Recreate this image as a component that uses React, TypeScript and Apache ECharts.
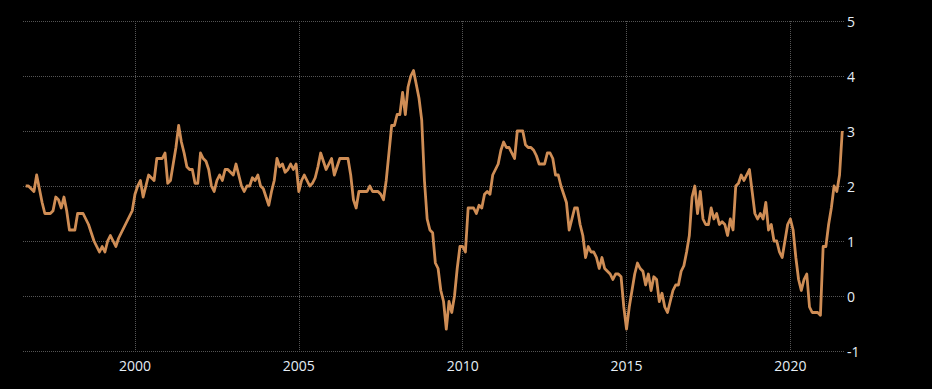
import React, { useEffect, useRef } from "react";
import * as echarts from "echarts";

// Monthly annual inflation rate (%), Aug 1996 .. Sep 2021 (first and last are empty padding months)
const firstMonth = { year: 1996, month: 8 };
const inflation: (number | null)[] = [
  // 1996 Aug..Dec
  null, 2.0, 2.0, 1.95, 1.9,
  // 1997
  2.2, 1.95, 1.7, 1.5, 1.5, 1.5, 1.55, 1.8, 1.75, 1.6, 1.8, 1.55,
  // 1998
  1.2, 1.2, 1.2, 1.5, 1.5, 1.5, 1.4, 1.3, 1.15, 1.0, 0.9, 0.8,
  // 1999
  0.9, 0.8, 1.0, 1.1, 1.0, 0.9, 1.05, 1.15, 1.25, 1.35, 1.45, 1.55,
  // 2000
  1.85, 2.0, 2.1, 1.8, 2.0, 2.2, 2.15, 2.1, 2.5, 2.5, 2.5, 2.6,
  // 2001
  2.05, 2.1, 2.4, 2.7, 3.1, 2.8, 2.6, 2.35, 2.3, 2.3, 2.05, 2.05,
  // 2002
  2.6, 2.5, 2.45, 2.3, 2.0, 1.9, 2.1, 2.2, 2.1, 2.3, 2.3, 2.25,
  // 2003
  2.2, 2.4, 2.2, 2.0, 1.9, 2.0, 2.0, 2.15, 2.1, 2.2, 2.0, 1.95,
  // 2004
  1.8, 1.65, 1.9, 2.1, 2.5, 2.35, 2.4, 2.25, 2.3, 2.4, 2.3, 2.4,
  // 2005
  1.9, 2.1, 2.2, 2.1, 2.0, 2.05, 2.15, 2.35, 2.6, 2.45, 2.3, 2.4,
  // 2006
  2.5, 2.2, 2.35, 2.5, 2.5, 2.5, 2.5, 2.2, 1.75, 1.6, 1.9, 1.9,
  // 2007
  1.9, 1.9, 2.0, 1.9, 1.9, 1.9, 1.85, 1.75, 2.1, 2.6, 3.1, 3.1,
  // 2008
  3.3, 3.3, 3.7, 3.3, 3.8, 4.0, 4.1, 3.85, 3.6, 3.2, 2.1, 1.4,
  // 2009
  1.2, 1.15, 0.6, 0.5, 0.1, -0.1, -0.6, -0.1, -0.3, 0.0, 0.5, 0.9,
  // 2010
  0.9, 0.8, 1.6, 1.6, 1.6, 1.5, 1.65, 1.6, 1.85, 1.9, 1.85, 2.2,
  // 2011
  2.3, 2.4, 2.65, 2.8, 2.7, 2.7, 2.6, 2.5, 3.0, 3.0, 3.0, 2.75,
  // 2012
  2.7, 2.7, 2.65, 2.55, 2.4, 2.4, 2.4, 2.6, 2.6, 2.5, 2.2, 2.2,
  // 2013
  2.0, 1.85, 1.7, 1.2, 1.4, 1.6, 1.6, 1.3, 1.1, 0.7, 0.9, 0.8,
  // 2014
  0.8, 0.7, 0.5, 0.7, 0.5, 0.45, 0.4, 0.3, 0.4, 0.4, 0.35, -0.2,
  // 2015
  -0.6, -0.2, 0.1, 0.4, 0.6, 0.5, 0.45, 0.2, 0.4, 0.1, 0.35, 0.3,
  // 2016
  -0.1, 0.05, -0.2, -0.3, -0.1, 0.1, 0.2, 0.2, 0.45, 0.55, 0.8, 1.1,
  // 2017
  1.8, 2.0, 1.5, 1.9, 1.4, 1.3, 1.3, 1.6, 1.4, 1.5, 1.3, 1.35,
  // 2018
  1.3, 1.1, 1.4, 1.2, 2.0, 2.05, 2.2, 2.1, 2.2, 2.3, 1.9, 1.5,
  // 2019
  1.4, 1.5, 1.4, 1.7, 1.2, 1.3, 1.0, 1.0, 0.8, 0.7, 1.0, 1.3,
  // 2020
  1.4, 1.2, 0.7, 0.3, 0.1, 0.3, 0.4, -0.2, -0.3, -0.3, -0.3, -0.35,
  // 2021 Jan..Sep
  0.9, 0.9, 1.3, 1.6, 2.0, 1.9, 2.2, 3.0, null,
];

const xLabelYears = [2000, 2005, 2010, 2015, 2020];
const yMin = -1;
const yMax = 5;
const yStep = 1;

function buildMonths(): string[] {
  const out: string[] = [];
  let y = firstMonth.year;
  let m = firstMonth.month;
  for (let i = 0; i < inflation.length; i++) {
    out.push(`${y}-${String(m).padStart(2, "0")}`);
    m++;
    if (m > 12) {
      m = 1;
      y++;
    }
  }
  return out;
}

export default function App() {
  const ref = useRef<HTMLDivElement>(null);

  useEffect(() => {
    document.body.style.margin = "0";
    document.body.style.background = "#000";
    if (!ref.current) return;
    const chart = echarts.init(ref.current, undefined, { renderer: "svg" });
    const months = buildMonths();
    const isLabelMonth = (idx: number) => {
      const c = months[idx];
      if (!c) return false;
      const [yy, mm] = c.split("-");
      return mm === "01" && xLabelYears.includes(Number(yy));
    };
    chart.setOption({
      animation: false,
      backgroundColor: "#000000",
      grid: { left: 23, right: 87, top: 21, bottom: 38, containLabel: false },
      xAxis: {
        type: "category",
        data: months,
        boundaryGap: false,
        axisLine: { show: false },
        axisTick: { show: false },
        axisLabel: {
          interval: (idx: number) => isLabelMonth(idx),
          formatter: (v: string) => v.slice(0, 4),
          color: "#e6eef6",
          fontFamily: "Open Sans",
          fontSize: 14,
          margin: 7,
        },
        splitLine: {
          show: true,
          interval: (idx: number) => isLabelMonth(idx),
          lineStyle: { color: "#555555", type: "dotted", width: 1 },
        },
      },
      yAxis: {
        type: "value",
        position: "right",
        min: yMin,
        max: yMax,
        interval: yStep,
        axisLine: { show: false },
        axisTick: { show: false },
        axisLabel: {
          color: "#e6eef6",
          fontFamily: "Open Sans",
          fontSize: 14,
          margin: 2,
          align: "left",
        },
        splitLine: {
          show: true,
          lineStyle: { color: "#555555", type: "dotted", width: 1 },
        },
      },
      series: [
        {
          type: "line",
          data: inflation,
          showSymbol: false,
          symbol: "none",
          connectNulls: false,
          lineStyle: { color: "#cf8d55", width: 2.8, join: "round" },
          itemStyle: { color: "#cf8d55" },
        },
      ],
    });
    return () => chart.dispose();
  }, []);

  return (
    <div
      ref={ref}
      style={{ position: "fixed", left: 0, top: 0, width: 932, height: 389, background: "#000" }}
    />
  );
}
